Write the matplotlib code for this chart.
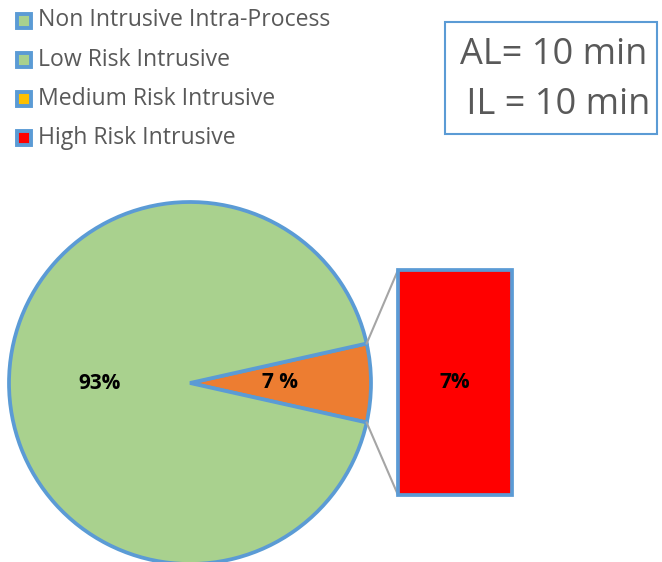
import numpy as np
import matplotlib
matplotlib.use("Agg")
import matplotlib.pyplot as plt
from matplotlib.patches import Rectangle

# Legend categories and their colours
categories = ["Non Intrusive Intra-Process", "Low Risk Intrusive",
              "Medium Risk Intrusive", "High Risk Intrusive"]
category_colors = ["#A9D18E", "#A9D18E", "#FFC000", "#FF0000"]

# Main pie: share kept in the pie vs. share split out into the bar
pie_values = [7, 93]
pie_labels = ["7 %", "93%"]
pie_colors = ["#ED7D31", "#A9D18E"]

# Breakdown of the split-out slice
bar_values = [7]
bar_labels = ["7%"]
bar_colors = ["#FF0000"]

info_lines = ["AL= 10 min", " IL = 10 min"]

EDGE = "#5B9BD5"
GREY_TXT = "#595959"
W, H = 662, 562

fig = plt.figure(figsize=(W / 100, H / 100), dpi=100)
ax = fig.add_axes([0, 0, 1, 1])
ax.set_xlim(0, W)
ax.set_ylim(0, H)
ax.set_aspect("equal")
ax.axis("off")

# Pie (pixel-based coordinates, y measured from bottom)
cx, cy, r = 190, H - 383, 181
half = pie_values[0] / sum(pie_values) * 180
wedges, _ = ax.pie(pie_values, colors=pie_colors, startangle=-half,
                   center=(cx, cy), radius=r, counterclock=True,
                   wedgeprops=dict(edgecolor=EDGE, linewidth=2.7))
ax.set_xlim(0, W)
ax.set_ylim(0, H)

# Slice labels
for w, lab, dist in zip(wedges, pie_labels, [0.5, 0.5]):
    mid = np.deg2rad((w.theta1 + w.theta2) / 2)
    ax.text(cx + dist * r * np.cos(mid), cy + dist * r * np.sin(mid), lab,
            ha="center", va="center", fontsize=15, fontweight="bold",
            family="Open Sans", color="black")

# Stacked bar for the split-out slice
bx, bw = 398, 114
b_bottom, b_total = H - 495, 225
scale = b_total / sum(bar_values)
bottom = b_bottom
for v, lab, col in zip(bar_values, bar_labels, bar_colors):
    ax.bar(bx + bw / 2, v * scale, width=bw, bottom=bottom, color=col,
           edgecolor=EDGE, linewidth=2.7, zorder=3)
    ax.text(bx + bw / 2, bottom + v * scale / 2, lab, ha="center", va="center",
            fontsize=15, fontweight="bold", family="Open Sans", color="black",
            zorder=4)
    bottom += v * scale

# Connector lines from slice edges to bar corners
w0 = wedges[0]
for ang, by in [(w0.theta2, b_bottom + b_total), (w0.theta1, b_bottom)]:
    a = np.deg2rad(ang)
    ax.plot([cx + r * np.cos(a), bx], [cy + r * np.sin(a), by],
            color="#A5A5A5", linewidth=1.5, zorder=1)

# Legend
for i, (name, col) in enumerate(zip(categories, category_colors)):
    y = H - (20.5 + i * 39.2)
    ax.add_patch(Rectangle((17, y - 7), 14, 14, facecolor=col,
                           edgecolor=EDGE, linewidth=2.8))
    ax.text(38.5, y, name, ha="left", va="center", fontsize=16.6,
            family="Open Sans", color=GREY_TXT)

# Info box
ax.add_patch(Rectangle((445, H - 134), 212, 112, facecolor="white",
                       edgecolor=EDGE, linewidth=1.5))
for j, line in enumerate(info_lines):
    ax.text(554, H - (55 + j * 50), line, ha="center", va="center",
            fontsize=26, family="Open Sans", color=GREY_TXT)

fig.savefig("out.png", dpi=100)
